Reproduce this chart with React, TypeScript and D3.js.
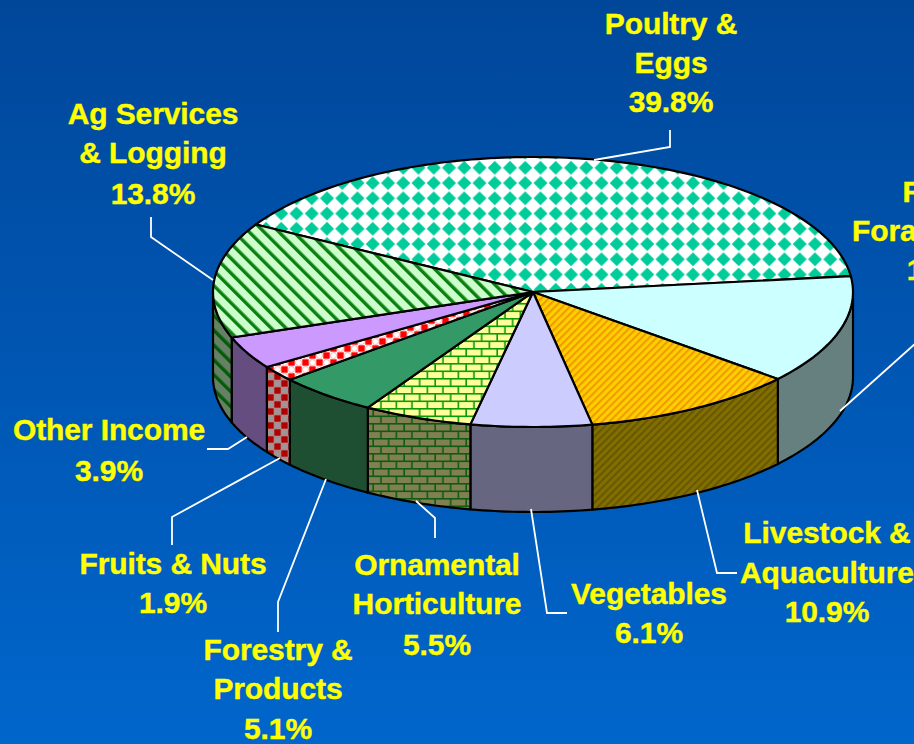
import React from "react";
import * as d3 from "d3";

const categories = ["Poultry & Eggs","Row & Forage Crops","Livestock & Aquaculture","Vegetables","Ornamental Horticulture","Forestry & Products","Fruits & Nuts","Other Income","Ag Services & Logging"];
const values = [39.8,13.0,10.9,6.1,5.5,5.1,1.9,3.9,13.8];
const labelLines = [["Poultry &","Eggs","39.8%"],["Row &","Forage Crops","13.0%"],["Livestock &","Aquaculture","10.9%"],["Vegetables","6.1%"],["Ornamental","Horticulture","5.5%"],["Forestry &","Products","5.1%"],["Fruits & Nuts","1.9%"],["Other Income","3.9%"],["Ag Services","& Logging","13.8%"]];
const topFills = ["url(#pDiamond)","#ccffff","url(#pGold)","#ccccff","url(#pBrick)","#339966","url(#pBubble)","#cc99ff","url(#pStripe)"];
const sideFills = ["#668080","#668080","url(#pGoldS)","#666680","url(#pBrickS)","#1f4f33","url(#pBubbleS)","#664d80","url(#pStripeS)"];

const labelAnchors: [number, number[]][] = [[671,[34,73,112]],[949,[202,241,280]],[827,[543,583,622]],[649,[604,643]],[437,[575,614,655]],[278,[660,699,739]],[173,[574,613]],[109,[440,481]],[153,[124,163,204]]];
const leaders: [number,number][][] = [
  [[594,160],[670,147],[670,130]],
  [[840,411],[916,343]],
  [[697,490],[717,573],[737,573]],
  [[531,509],[547,613],[567,613]],
  [[416,501],[435,518],[435,538]],
  [[326,479],[278,602],[278,632]],
  [[280,458],[172,517],[172,545]],
  [[247,437],[228,449],[207,449]],
  [[213,280],[151,237],[151,217]],
];

const W = 914, H = 744, DEPTH = 85;
const x = d3.scaleLinear().domain([-1,1]).range([213,853]);
const y = d3.scaleLinear().domain([-1,1]).range([157,427]);
const START = -60 * Math.PI / 180;
const arcs = d3.pie<number>().sort(null).startAngle(START).endAngle(START + 2*Math.PI)(values);
const line = d3.line<[number,number]>();
const pt = (a:number,dz=0):[number,number] => [x(Math.sin(a)), y(-Math.cos(a))+dz];
const sample = (a0:number,a1:number,dz=0) => {
  const n = Math.max(2, Math.ceil((a1-a0)/0.02));
  return d3.range(n+1).map(i => pt(a0+(a1-a0)*i/n, dz));
};
const topPath = (a0:number,a1:number) => line([[x(0),y(0)],...sample(a0,a1)])+"Z";
const sidePath = (a0:number,a1:number) => {
  const lo = Math.max(a0, Math.PI/2), hi = Math.min(a1, 3*Math.PI/2);
  if (hi <= lo) return null;
  return line([...sample(lo,hi),...sample(lo,hi,DEPTH).reverse()])+"Z";
};

const Stripe = ({id,w,d,bg,fg,angle}:{id:string,w:number,d:number,bg:string,fg:string,angle:number}) => (
  <pattern id={id} patternUnits="userSpaceOnUse" width={w} height={w} patternTransform={`rotate(${angle})`}>
    <rect width={w} height={w} fill={bg}/>
    <rect width={d} height={w} fill={fg}/>
  </pattern>
);
const BW = 15.5, BH = 15, M = 1.6;
const Brick = ({id,bg,fg}:{id:string,bg:string,fg:string}) => (
  <pattern id={id} patternUnits="userSpaceOnUse" width={BW} height={BH} patternTransform="translate(2,3)">
    <rect width={BW} height={BH} fill={fg}/>
    <rect x={0} y={M} width={BW-M} height={BH/2-M} fill={bg}/>
    <rect x={-BW/2} y={BH/2+M} width={BW-M} height={BH/2-M} fill={bg}/>
    <rect x={BW/2} y={BH/2+M} width={BW-M} height={BH/2-M} fill={bg}/>
  </pattern>
);
const Bubble = ({id,bg,fg,ring}:{id:string,bg:string,fg:string,ring:string}) => (
  <pattern id={id} patternUnits="userSpaceOnUse" width={14} height={14} patternTransform="translate(1,2)">
    <rect width={14} height={14} fill={bg}/>
    <rect x={0.3} y={0.3} width={6.4} height={6.4} fill={fg}/>
    <rect x={7.3} y={7.3} width={6.4} height={6.4} fill={fg}/>
    <circle cx={10.5} cy={3.5} r={3.1} fill="none" stroke={ring} strokeWidth={1}/>
    <circle cx={3.5} cy={10.5} r={3.1} fill="none" stroke={ring} strokeWidth={1}/>
  </pattern>
);
const DH = 7;
const DP = 15.25;

export default function App() {
  return (
    <svg width={W} height={H} viewBox={`0 0 ${W} ${H}`} style={{position:"fixed",left:0,top:0,display:"block"}}>
      <defs>
        <linearGradient id="bg" x1="0" y1="0" x2="0" y2="1">
          <stop offset="0" stopColor="#00479a"/>
          <stop offset="1" stopColor="#0066cc"/>
        </linearGradient>
        <pattern id="pDiamond" patternUnits="userSpaceOnUse" width={DP} height={DP} patternTransform="translate(510,198.3)">
          <rect width={DP} height={DP} fill="#ffffff"/>
          <g fill="#00cc99">
            {[[0,0],[DP,0],[0,DP],[DP,DP]].map(([cx,cy],i)=>(
              <path key={i} d={`M${cx},${cy-DH}L${cx+DH},${cy}L${cx},${cy+DH}L${cx-DH},${cy}Z`}/>
            ))}
          </g>
        </pattern>
        <Stripe id="pStripe" w={10.5} d={3.4} bg="#ccffcc" fg="#0a8010" angle={-45}/>
        <Stripe id="pStripeS" w={10.5} d={3.4} bg="#668066" fg="#045c08" angle={-45}/>
        <Stripe id="pGold" w={5.2} d={2.1} bg="#ffd000" fg="#f09a00" angle={45}/>
        <Stripe id="pGoldS" w={5.2} d={2.1} bg="#807000" fg="#6b5500" angle={45}/>
        <Brick id="pBrick" bg="#ffff99" fg="#0a9a0a"/>
        <Brick id="pBrickS" bg="#808050" fg="#0f5a14"/>
        <Bubble id="pBubble" bg="#ffffff" fg="#ff0000" ring="#ffb0b0"/>
        <Bubble id="pBubbleS" bg="#999999" fg="#b00000" ring="#c08080"/>
      </defs>
      <rect width={W} height={H} fill="url(#bg)"/>
      <g stroke="#000" strokeWidth={2.2} strokeLinejoin="round">
        {arcs.map((a,i)=>{
          const p = sidePath(a.startAngle,a.endAngle);
          return p ? <path key={categories[i]} d={p} fill={sideFills[i]}/> : null;
        })}
        {arcs.map((a,i)=>(
          <path key={categories[i]} d={topPath(a.startAngle,a.endAngle)} fill={topFills[i]}/>
        ))}
      </g>
      <g fill="none" stroke="#ffffff" strokeWidth={1.8}>
        {leaders.map((l,i)=><path key={i} d={line(l)!}/>)}
      </g>
      <g fill="#ffff00" stroke="#ffff00" strokeWidth={0.4} fontFamily="'Liberation Sans', Arial, sans-serif" fontWeight="bold" fontSize={30} textAnchor="middle" letterSpacing={-0.1}>
        {labelLines.map((ls,i)=>ls.map((t,j)=>(
          <text key={`${i}-${j}`} x={labelAnchors[i][0]} y={labelAnchors[i][1][j]}>{t}</text>
        )))}
      </g>
    </svg>
  );
}
